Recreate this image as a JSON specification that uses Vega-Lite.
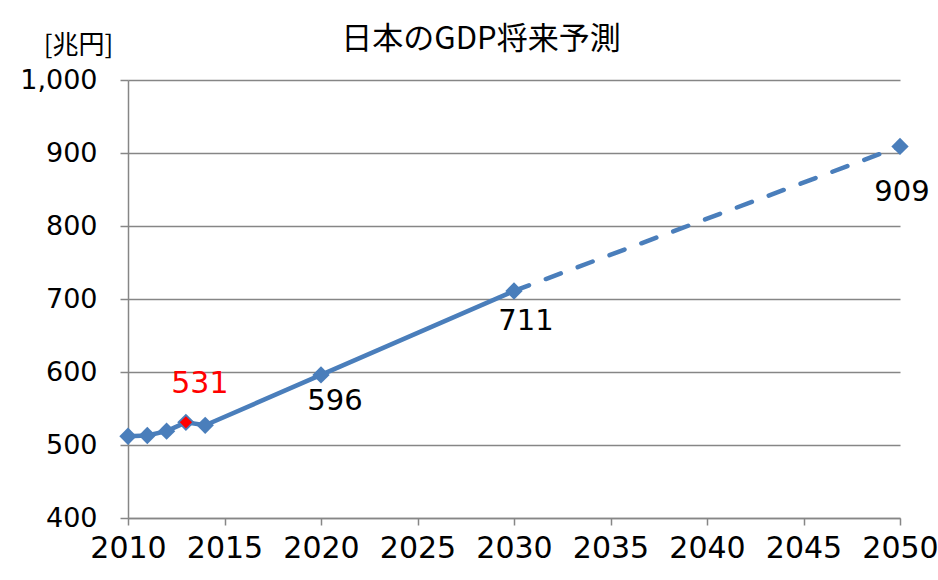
{
  "$schema": "https://vega.github.io/schema/vega-lite/v6.json",
  "autosize": {"type": "none"},
  "padding": {"left": 128, "top": 80, "right": 38, "bottom": 62},
  "width": 772,
  "height": 438,
  "background": "white",
  "title": {
    "text": "日本のGDP将来予測",
    "font": "Noto Sans CJK JP",
    "fontSize": 31,
    "fontWeight": "normal",
    "color": "#000000",
    "anchor": "middle",
    "dx": -33,
    "offset": -24
  },
  "data": {
    "values": [
      {"year": 2010, "gdp": 512},
      {"year": 2011, "gdp": 513},
      {"year": 2012, "gdp": 519},
      {"year": 2013, "gdp": 531},
      {"year": 2014, "gdp": 527},
      {"year": 2020, "gdp": 596},
      {"year": 2030, "gdp": 711},
      {"year": 2050, "gdp": 909}
    ]
  },
  "encoding": {
    "x": {
      "field": "year",
      "type": "quantitative",
      "scale": {"domain": [2010, 2050], "nice": false, "zero": false},
      "axis": {
        "values": [2010, 2015, 2020, 2025, 2030, 2035, 2040, 2045, 2050],
        "format": "d",
        "title": null,
        "grid": false,
        "domainColor": "#868686",
        "domainWidth": 1.5,
        "tickColor": "#868686",
        "tickWidth": 1.5,
        "tickSize": 7,
        "labelFont": "DejaVu Sans",
        "labelFontSize": 30,
        "labelColor": "#000000",
        "labelPadding": 8,
        "labelFlush": false,
        "labelOverlap": false
      }
    },
    "y": {
      "field": "gdp",
      "type": "quantitative",
      "scale": {"domain": [400, 1000], "nice": false, "zero": false},
      "axis": {
        "values": [400, 500, 600, 700, 800, 900, 1000],
        "format": ",d",
        "title": "[兆円]",
        "titleAngle": 0,
        "titleX": -50,
        "titleY": -27,
        "titleAlign": "center",
        "titleBaseline": "alphabetic",
        "titleFont": "Noto Sans CJK JP",
        "titleFontSize": 26,
        "titleFontWeight": "normal",
        "titleColor": "#000000",
        "grid": true,
        "gridColor": "#868686",
        "gridWidth": 1.5,
        "domainColor": "#868686",
        "domainWidth": 1.5,
        "tickColor": "#868686",
        "tickWidth": 1.5,
        "tickSize": 8,
        "labelFont": "DejaVu Sans",
        "labelFontSize": 27,
        "labelColor": "#000000",
        "labelPadding": 23,
        "labelFlush": false,
        "labelOverlap": false
      }
    }
  },
  "layer": [
    {
      "transform": [{"filter": "datum.year <= 2030"}],
      "mark": {"type": "line", "color": "#4A7EBB", "strokeWidth": 4.5}
    },
    {
      "transform": [{"filter": "datum.year >= 2030"}],
      "mark": {"type": "line", "color": "#4A7EBB", "strokeWidth": 4.5, "strokeDash": [16, 18], "strokeCap": "round"}
    },
    {
      "mark": {"type": "point", "shape": "diamond", "filled": true, "color": "#4A7EBB", "opacity": 1, "size": 300}
    },
    {
      "transform": [{"filter": "datum.year == 2013"}],
      "mark": {"type": "point", "shape": "diamond", "filled": true, "color": "#FF0000", "opacity": 1, "size": 150}
    },
    {
      "transform": [{"filter": "datum.year == 2013"}],
      "mark": {"type": "text", "font": "DejaVu Sans", "fontSize": 30, "color": "#FF0000", "align": "center", "baseline": "middle", "dx": 14, "dy": -38},
      "encoding": {"text": {"field": "gdp", "type": "quantitative", "format": "d"}}
    },
    {
      "transform": [{"filter": "datum.year == 2020"}],
      "mark": {"type": "text", "font": "DejaVu Sans", "fontSize": 29, "color": "#000000", "align": "center", "baseline": "middle", "dx": 14, "dy": 26},
      "encoding": {"text": {"field": "gdp", "type": "quantitative", "format": "d"}}
    },
    {
      "transform": [{"filter": "datum.year == 2030"}],
      "mark": {"type": "text", "font": "DejaVu Sans", "fontSize": 29, "color": "#000000", "align": "center", "baseline": "middle", "dx": 12, "dy": 30},
      "encoding": {"text": {"field": "gdp", "type": "quantitative", "format": "d"}}
    },
    {
      "transform": [{"filter": "datum.year == 2050"}],
      "mark": {"type": "text", "font": "DejaVu Sans", "fontSize": 29, "color": "#000000", "align": "center", "baseline": "middle", "dx": 2, "dy": 46},
      "encoding": {"text": {"field": "gdp", "type": "quantitative", "format": "d"}}
    }
  ],
  "config": {
    "view": {"stroke": null}
  }
}
